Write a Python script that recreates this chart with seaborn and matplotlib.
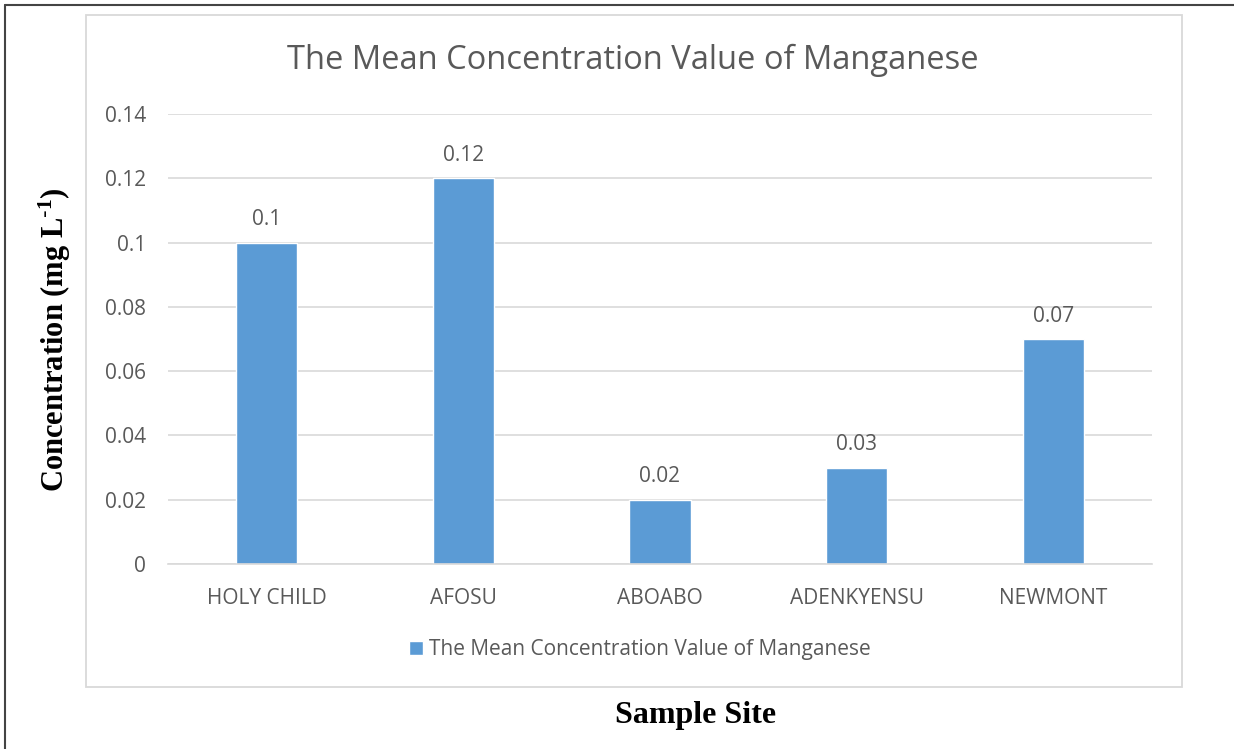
import pandas as pd
import matplotlib
matplotlib.use("Agg")
import matplotlib.pyplot as plt
import seaborn as sns
from matplotlib.patches import Rectangle
from matplotlib.lines import Line2D

# --- dados ---
sites = ["HOLY CHILD", "AFOSU", "ABOABO", "ADENKYENSU", "NEWMONT"]
mn_mean = [0.10, 0.12, 0.02, 0.03, 0.07]
y_ticks = [0, 0.02, 0.04, 0.06, 0.08, 0.1, 0.12, 0.14]
y_tick_labels = ["0", "0.02", "0.04", "0.06", "0.08", "0.1", "0.12", "0.14"]
bar_labels = ["0.1", "0.12", "0.02", "0.03", "0.07"]
series_name = "The Mean Concentration Value of Manganese"

BAR_COLOR = "#5B9BD5"
TEXT_GRAY = "#595959"
GRID_GRAY = "#D9D9D9"

sns.set_theme(style="white")
plt.rcParams['font.family'] = ['Open Sans', 'DejaVu Sans']

df = pd.DataFrame({"Site": sites, "Value": mn_mean})

fig = plt.figure(figsize=(12.34, 7.49), dpi=100)
W, H = 1234, 749

# bordas externas (so esquerda e topo visiveis)
fig.add_artist(Line2D([5 / W, 5 / W], [0, 1 - 5 / H], color="#444444", lw=1.5, transform=fig.transFigure))
fig.add_artist(Line2D([5 / W, 1], [1 - 5 / H, 1 - 5 / H], color="#444444", lw=1.5, transform=fig.transFigure))

# caixa do grafico
fig.add_artist(Rectangle((86 / W, 1 - 687 / H), 1096 / W, 672 / H, fill=False,
                         edgecolor=GRID_GRAY, lw=1.3, transform=fig.transFigure))

ax = fig.add_axes([168 / W, 1 - 564 / H, (1152 - 168) / W, (564 - 114) / H])
sns.barplot(ax=ax, data=df, x="Site", y="Value", color=BAR_COLOR, width=0.31,
            label=series_name, saturation=1)
ax.set_ylim(0, 0.14)
ax.set_xlim(-0.5, len(sites) - 0.5)
ax.set_yticks(y_ticks)
ax.set_yticklabels(y_tick_labels)
ax.yaxis.grid(True, color=GRID_GRAY, lw=1.2)
ax.set_axisbelow(True)
for s in ["top", "right", "left"]:
    ax.spines[s].set_visible(False)
ax.spines["bottom"].set_color(GRID_GRAY)
ax.spines["bottom"].set_linewidth(1.2)
ax.tick_params(axis="both", length=0, labelsize=15, labelcolor=TEXT_GRAY)
ax.tick_params(axis="y", pad=16)
ax.tick_params(axis="x", pad=17.5)
ax.set_xlabel("")
ax.set_ylabel("")

for container in ax.containers:
    ax.bar_label(container, labels=bar_labels, padding=9, fontsize=15, color=TEXT_GRAY)

fig.text(633 / W, 1 - 60 / H, series_name, ha="center", va="center", fontsize=23.5, color=TEXT_GRAY)

leg = ax.legend(loc="center", bbox_to_anchor=(640 / W, 1 - 650 / H), bbox_transform=fig.transFigure,
                frameon=False, fontsize=15, handlelength=0.65, handleheight=0.65, handletextpad=0.3)
for t in leg.get_texts():
    t.set_color(TEXT_GRAY)

fig.text(696 / W, 1 - 716 / H, "Sample Site", ha="center", va="center", fontsize=23,
         fontweight="bold", family="Liberation Serif", color="black")
fig.text(55 / W, 1 - 340 / H, r"Concentration (mg L$\mathregular{^{\text{-}1}}$)", ha="center", va="center",
         rotation=90, fontsize=22, fontweight="bold", family="Liberation Serif", color="black")

fig.savefig("out.png", dpi=100)
